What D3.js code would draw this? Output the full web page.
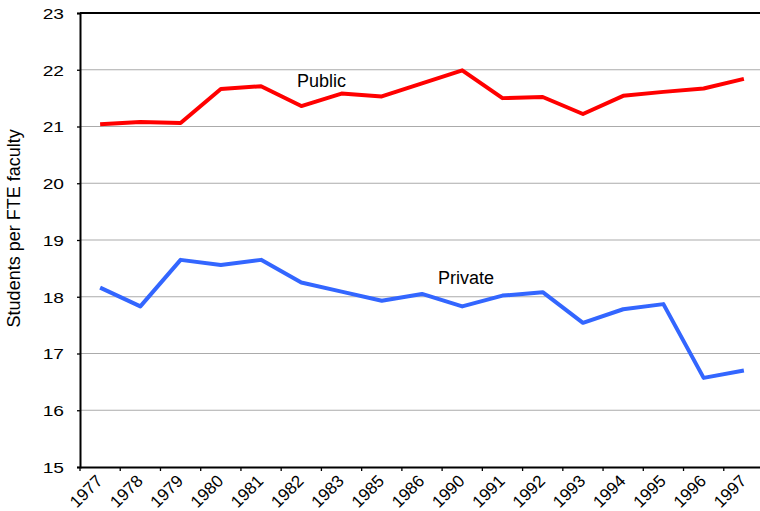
<!DOCTYPE html>
<html>
<head>
<meta charset="utf-8">
<script src="https://cdn.jsdelivr.net/npm/d3@7/dist/d3.min.js"></script>
<style>
  html, body { margin: 0; padding: 0; background: #fff; }
  svg { display: block; font-family: "Liberation Sans", Arial, Helvetica, sans-serif; }
</style>
</head>
<body>
<svg id="chart" width="760" height="511"></svg>
<script>
const years = ["1977","1978","1979","1980","1981","1982","1983","1985","1986","1990","1991","1992","1993","1994","1995","1996","1997"];
const publicValues  = [21.04, 21.08, 21.06, 21.66, 21.71, 21.36, 21.58, 21.53, 21.76, 21.99, 21.50, 21.52, 21.22, 21.54, 21.61, 21.67, 21.84];
const privateValues = [18.16, 17.83, 18.65, 18.56, 18.65, 18.25, 18.09, 17.93, 18.05, 17.83, 18.02, 18.08, 17.54, 17.78, 17.87, 16.57, 16.70];
const yTicks = [15, 16, 17, 18, 19, 20, 21, 22, 23];
const yTitle = "Students per FTE faculty";
const seriesLabels = ["Public", "Private"];

const svg = d3.select("#chart");
const mLeft = 80, mRight = 764, mTop = 13, mBottom = 467;

const x = d3.scaleBand().domain(years).range([mLeft, mRight]).padding(0);
const y = d3.scaleLinear().domain([15, 23]).range([mBottom, mTop]);
const bw = x.bandwidth();
const cx = d => x(d) + bw / 2;

// gridlines
svg.append("g").selectAll("line").data(yTicks.filter(t => t > 15 && t < 23)).join("line")
  .attr("x1", mLeft).attr("x2", 760)
  .attr("y1", d => y(d)).attr("y2", d => y(d))
  .attr("stroke", "#ababab").attr("stroke-width", 1.2);

// top border line
svg.append("line").attr("x1", mLeft).attr("x2", 760).attr("y1", y(23)).attr("y2", y(23))
  .attr("stroke", "#000").attr("stroke-width", 2);

// y axis
const yAxis = svg.append("g").attr("transform", `translate(${mLeft},0)`)
  .call(d3.axisLeft(y).tickValues(yTicks).tickSize(3).tickFormat(d3.format("d")));
yAxis.select(".domain").attr("stroke", "#000").attr("stroke-width", 2);
yAxis.selectAll(".tick line").attr("stroke", "#000").attr("stroke-width", 1.3);
yAxis.selectAll(".tick text")
  .attr("x", 0).attr("dy", "0.36em")
  .attr("transform", "translate(-16,0) scale(1.28,1)")
  .attr("text-anchor", "end")
  .attr("font-size", 15).attr("fill", "#000")
  .attr("font-family", "Liberation Sans, Arial, sans-serif");

// x axis
const xAxis = svg.append("g").attr("transform", `translate(0,${mBottom})`)
  .call(d3.axisBottom(x).tickSize(4).tickSizeOuter(0));
xAxis.select(".domain").attr("stroke", "#000").attr("stroke-width", 2);
xAxis.selectAll(".tick line").attr("x1", -bw / 2).attr("x2", -bw / 2)
  .attr("stroke", "#000").attr("stroke-width", 1.3);
xAxis.selectAll(".tick text")
  .attr("x", 0).attr("y", 0).attr("dy", 0)
  .attr("text-anchor", "end")
  .attr("transform", "translate(3.5,15) rotate(-45)")
  .attr("font-size", 17).attr("fill", "#000")
  .attr("font-family", "Liberation Sans, Arial, sans-serif");

// lines
const line = d3.line().x((d, i) => cx(years[i])).y(d => y(d));
svg.append("path").datum(publicValues).attr("d", line)
  .attr("fill", "none").attr("stroke", "#ff0000").attr("stroke-width", 4).attr("stroke-linejoin", "round");
svg.append("path").datum(privateValues).attr("d", line)
  .attr("fill", "none").attr("stroke", "#3366ff").attr("stroke-width", 4).attr("stroke-linejoin", "round");

// series labels
svg.append("text").attr("x", 297).attr("y", 87).text(seriesLabels[0])
  .attr("font-size", 18).attr("fill", "#000");
svg.append("text").attr("x", 438).attr("y", 284).text(seriesLabels[1])
  .attr("font-size", 18).attr("fill", "#000");

// y title
svg.append("text")
  .attr("transform", `translate(20,${(126.7 + 330) / 2}) rotate(-90)`)
  .attr("text-anchor", "middle")
  .attr("font-size", 18).attr("fill", "#000")
  .text(yTitle);
</script>
</body>
</html>
